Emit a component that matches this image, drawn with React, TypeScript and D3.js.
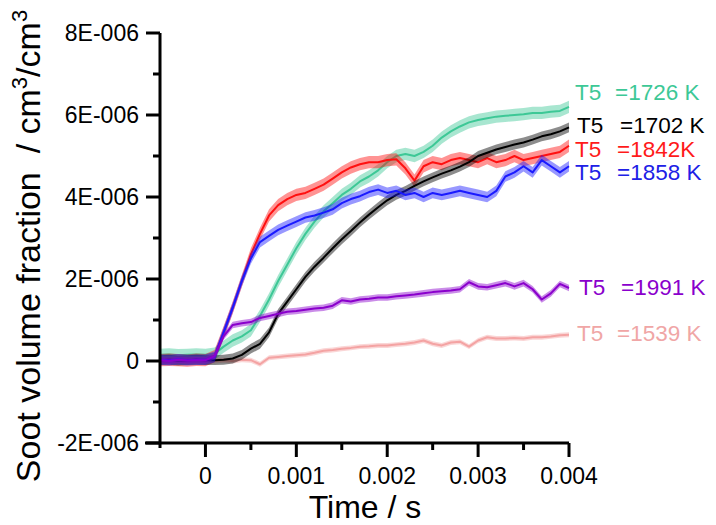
import React from "react";
import * as d3 from "d3";

const time = [-0.0005,-0.0004,-0.0003,-0.0002,-0.0001,0,0.0001,0.0002,0.0003,0.0004,0.0005,0.0006,0.0007,0.0008,0.0009,0.001,0.0011,0.0012,0.0013,0.0014,0.0015,0.0016,0.0017,0.0018,0.0019,0.002,0.0021,0.0022,0.0023,0.0024,0.0025,0.0026,0.0027,0.0028,0.0029,0.003,0.0031,0.0032,0.0033,0.0034,0.0035,0.0036,0.0037,0.0038,0.0039,0.004];

// soot volume fraction in units of 1E-006 cm3/cm3
const t1539 = [0.0,0.01,-0.01,0.0,0.01,0.0,0.0,0.02,0.0,0.03,0.02,-0.08,0.08,0.1,0.12,0.14,0.16,0.2,0.25,0.27,0.3,0.32,0.35,0.36,0.38,0.38,0.4,0.42,0.45,0.5,0.42,0.38,0.45,0.47,0.35,0.5,0.58,0.55,0.55,0.56,0.55,0.58,0.58,0.6,0.63,0.64];
const t1726 = [0.15,0.16,0.14,0.15,0.16,0.15,0.18,0.35,0.5,0.6,0.75,1.1,1.5,1.95,2.35,2.75,3.1,3.4,3.65,3.85,4.05,4.2,4.38,4.5,4.65,4.85,5.0,5.05,5.0,5.1,5.25,5.45,5.6,5.72,5.82,5.88,5.92,5.96,5.98,6.0,6.02,6.05,6.05,6.08,6.1,6.2];
const t1842 = [0.02,0.03,0.02,0.01,0.03,0.02,0.12,0.7,1.3,1.95,2.6,3.1,3.55,3.8,3.95,4.05,4.1,4.2,4.3,4.45,4.6,4.72,4.8,4.85,4.85,4.9,4.92,4.7,4.4,4.75,4.85,4.8,4.9,4.95,4.9,4.85,4.95,4.85,4.9,5.0,4.9,4.95,5.0,5.05,5.1,5.25];
const t1702 = [0.02,0.03,0.01,0.02,0.03,0.02,0.02,0.03,0.06,0.15,0.3,0.42,0.7,1.15,1.45,1.75,2.05,2.3,2.52,2.75,2.97,3.17,3.38,3.57,3.75,3.92,4.05,4.15,4.27,4.38,4.48,4.57,4.65,4.74,4.85,5.0,5.08,5.16,5.22,5.28,5.33,5.4,5.48,5.53,5.6,5.7];
const t1858 = [0.03,0.02,0.04,0.02,0.03,0.03,0.1,0.7,1.3,1.95,2.5,2.9,3.05,3.2,3.3,3.4,3.5,3.55,3.62,3.7,3.85,3.95,4.02,4.12,4.18,4.1,4.15,4.05,4.1,4.0,4.1,4.05,4.1,4.15,4.1,4.05,4.0,4.15,4.5,4.6,4.75,4.6,4.9,4.75,4.6,4.75];
const t1991 = [0.02,0.0,0.03,0.01,0.02,0.02,0.12,0.6,0.88,0.92,0.95,1.05,1.1,1.15,1.2,1.22,1.25,1.28,1.3,1.35,1.48,1.45,1.5,1.52,1.55,1.55,1.58,1.6,1.62,1.65,1.68,1.7,1.72,1.75,1.92,1.82,1.8,1.85,1.9,1.82,1.9,1.75,1.5,1.65,1.88,1.78];

const yTicks = [-2, 0, 2, 4, 6, 8];
const yMinorTicks = [-1, 1, 3, 5, 7];
const xTicks = [0, 0.001, 0.002, 0.003, 0.004];
const xMinorTicks = [0.0005, 0.0015, 0.0025, 0.0035];

const seriesLabels = ["=1539 K", "=1726 K", "=1842K", "=1702 K", "=1858 K", "=1991 K"];
const seriesValues = [t1539, t1726, t1842, t1702, t1858, t1991];

const styles = [
  { color: "#f4a3a3", text: "#f0a6a6", band: 0.06, lx: 577, ly: 341, eq: 40 },
  { color: "#3dc896", text: "#3dc896", band: 0.15, lx: 575, ly: 100, eq: 40 },
  { color: "#ff1010", text: "#ff1a1a", band: 0.15, lx: 575, ly: 157, eq: 42 },
  { color: "#000000", text: "#000000", band: 0.12, lx: 577, ly: 133, eq: 43 },
  { color: "#1a1aff", text: "#2020e6", band: 0.13, lx: 575, ly: 180, eq: 42 },
  { color: "#8a00cc", text: "#8a00cc", band: 0.08, lx: 579, ly: 295, eq: 42 },
];

const fmtY = (v: number) => (v === 0 ? "0" : `${v < 0 ? "-" : ""}${Math.abs(v)}E-006`);
const fmtX = (v: number) => (v === 0 ? "0" : d3.format(".3f")(v));

export default function App() {
  const W = 716, H = 525;
  const x = d3.scaleLinear().domain([-0.0005, 0.004]).range([160, 569]);
  const y = d3.scaleLinear().domain([-2, 8]).range([443, 33]);
  const axisY = y(-2);
  const axisX = x(-0.0005);
  const font = "Liberation Sans, Arial, sans-serif";

  const line = d3.line<number>().x((_, i) => x(time[i])).y((d) => y(d));

  return (
    <svg width={W} height={H} style={{ position: "absolute", left: 0, top: 0, background: "#fff" }} fontFamily={font}>
      <rect width={W} height={H} fill="#fff" />
      {seriesValues.map((vals, k) => {
        const s = styles[k];
        const area = d3
          .area<number>()
          .x((_, i) => x(time[i]))
          .y0((d) => y(d - s.band))
          .y1((d) => y(d + s.band));
        return (
          <g key={k}>
            <path d={area(vals) || ""} fill={s.color} opacity={0.45} />
            <path d={line(vals) || ""} fill="none" stroke={s.color} strokeWidth={2} strokeLinejoin="round" />
          </g>
        );
      })}
      {/* axes */}
      <line x1={axisX} x2={axisX} y1={y(8)} y2={axisY + 5} stroke="#000" strokeWidth={3} />
      <line x1={axisX - 15} x2={x(0.004)} y1={axisY} y2={axisY} stroke="#000" strokeWidth={3} />
      {yTicks.map((v) => (
        <g key={"y" + v}>
          <line x1={axisX - 14} x2={axisX} y1={y(v)} y2={y(v)} stroke="#000" strokeWidth={3} />
          <text x={axisX - 21} y={y(v)} dy="0.36em" textAnchor="end" fontSize={23} fill="#000">
            {fmtY(v)}
          </text>
        </g>
      ))}
      {yMinorTicks.map((v) => (
        <line key={"ym" + v} x1={axisX - 7} x2={axisX} y1={y(v)} y2={y(v)} stroke="#000" strokeWidth={3} />
      ))}
      {xTicks.map((v) => (
        <g key={"x" + v}>
          <line x1={x(v)} x2={x(v)} y1={axisY} y2={axisY + 14} stroke="#000" strokeWidth={3} />
          <text x={x(v)} y={axisY + 41} textAnchor="middle" fontSize={23} fill="#000">
            {fmtX(v)}
          </text>
        </g>
      ))}
      {xMinorTicks.map((v) => (
        <line key={"xm" + v} x1={x(v)} x2={x(v)} y1={axisY} y2={axisY + 7} stroke="#000" strokeWidth={3} />
      ))}
      <text x={365} y={518} textAnchor="middle" fontSize={32} fill="#000">
        Time / s
      </text>
      <text
        transform={`translate(40, 246) rotate(-90)`}
        textAnchor="middle"
        fontSize={34}
        fill="#000"
        xmlSpace="preserve"
      >
        Soot volume fraction  / cm<tspan fontSize={22} dy={-13}>3</tspan>
        <tspan dy={13}>/cm</tspan>
        <tspan fontSize={22} dy={-13}>3</tspan>
      </text>
      {seriesLabels.map((lab, k) => {
        const s = styles[k];
        return (
          <g key={"l" + k} fill={s.text} fontSize={22.5}>
            <text x={s.lx} y={s.ly}>T5</text>
            <text x={s.lx + s.eq} y={s.ly}>{lab}</text>
          </g>
        );
      })}
    </svg>
  );
}
